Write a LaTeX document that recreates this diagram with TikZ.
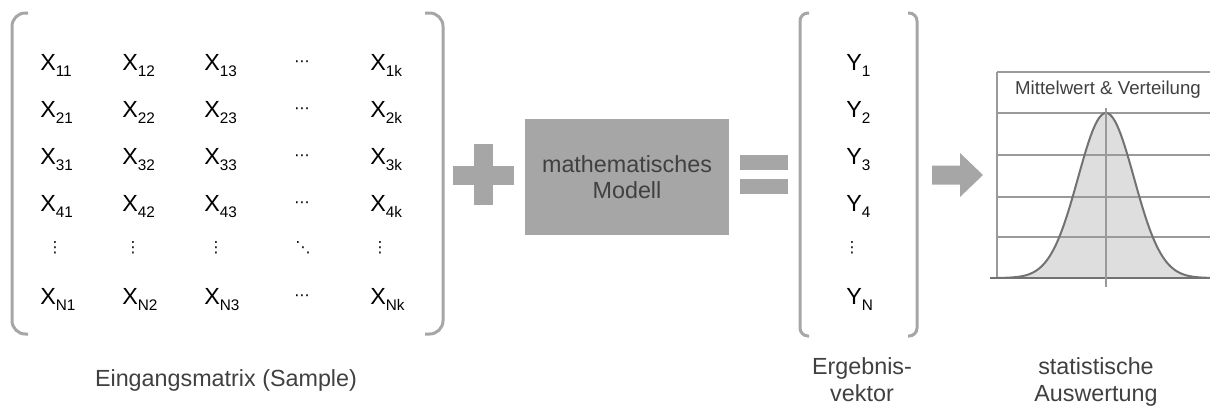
\documentclass[tikz,border=0pt]{standalone}
\usepackage{fontspec}
\setmainfont{Liberation Sans}
\newfontfamily\dotfont{DejaVu Sans}
\definecolor{shapegray}{HTML}{A6A6A6}
\definecolor{textgray}{HTML}{404040}
\definecolor{gridgray}{HTML}{9A9A9A}
\definecolor{curvegray}{HTML}{727272}
\definecolor{curvefill}{HTML}{DEDEDE}
\newcommand{\lowidx}[1]{\raisebox{-4.5pt}{\fontsize{11.5}{12}\selectfont#1}}

\begin{document}
\begin{tikzpicture}[x=0.75pt,y=-0.75pt,
		entry/.style={anchor=base west, inner sep=0pt, font=\fontsize{17.5}{21}\selectfont},
		dotsnode/.style={inner sep=0pt, font=\dotfont\fontsize{11.5}{12}\selectfont},
		caption/.style={inner sep=0pt, align=center, text=textgray, font=\fontsize{17.5}{20}\selectfont},
		bracket/.style={draw=shapegray, line width=2.25pt, rounded corners=10pt},
		gridline/.style={draw=gridgray, line width=1.5pt},
		axisline/.style={draw=curvegray, line width=1.5pt},
		curveline/.style={draw=curvegray, line width=1.5pt}]
	\useasboundingbox (0,0) rectangle (1210,405);
	% Eingangsmatrix
	\foreach \r/\yy in {1/70,2/117,3/164,4/211,N/304}{
		\foreach \c/\xx in {1/40,2/122,3/204}
			\node[entry] (x\r\c) at (\xx,\yy) {X\lowidx{\r\c}};
		\node[entry] (x\r-k) at (370,\yy) {X\lowidx{\r k}};
		\node[dotsnode] (h\r) at (302,\yy-6) {⋯};
	}
	\foreach \c/\xx in {1/55,2/133,3/216,k/380}
		\node[dotsnode] (v\c) at (\xx,248) {⋮};
	\node[dotsnode] (dd) at (303,248) {⋱};
	\draw[bracket] (28,13) -- (12,13) -- (12,334) -- (28,334);
	\draw[bracket] (425,13) -- (443,13) -- (443,334) -- (425,334);
	\node[caption, anchor=base] (eingang) at (226,386) {Eingangsmatrix (Sample)};
	% plus, Modell, gleich
	\fill[shapegray] (453,165.5) rectangle (514,184.5);
	\fill[shapegray] (474,144) rectangle (493,205);
	\node[caption, fill=shapegray, minimum width=153pt, minimum height=87pt] (model) at (627,177) {mathematisches\\Modell};
	\fill[shapegray] (740,155) rectangle (788,170);
	\fill[shapegray] (740,179) rectangle (788,194);
	% Ergebnisvektor
	\foreach \r/\yy in {1/70,2/117,3/164,4/211,N/304}
		\node[entry] (y\r) at (846,\yy) {Y\lowidx{\r}};
	\node[dotsnode] (yv) at (852,248) {⋮};
	\draw[bracket, rounded corners=6pt] (809,13) -- (800,13) -- (800,336) -- (809,336);
	\draw[bracket, rounded corners=6pt] (908,13) -- (917,13) -- (917,336) -- (908,336);
	\node[caption, anchor=base] (ergebnis) at (862,401) {Ergebnis-\\vektor};
	% Pfeil
	\fill[shapegray] (932,165.5) -- (960,165.5) -- (960,153) -- (983,175) -- (960,197) -- (960,184.5) -- (932,184.5) -- cycle;
	% Verteilung
	\fill[curvefill] (997,278) -- plot[domain=997:1210, samples=120] (\x, {278-165*exp(-((\x-1106)/28)^2/2)}) -- (1210,278) -- cycle;
	\foreach \yy in {72,113,155,197,237}
		\draw[gridline] (997,\yy) -- (1210,\yy);
	\draw[gridline] (997,72) -- (997,278);
	\draw[curveline] plot[domain=997:1210, samples=120] (\x, {278-165*exp(-((\x-1106)/28)^2/2)});
	\draw[axisline] (990,278) -- (1210,278);
	\draw[gridline] (1106,108) -- (1106,287);
	\node[inner sep=0pt, text=textgray, font=\fontsize{14}{16}\selectfont] (title) at (1108,90) {Mittelwert \& Verteilung};
	\node[caption, anchor=base] (auswertung) at (1096,401) {statistische\\Auswertung};
\end{tikzpicture}
\end{document}
